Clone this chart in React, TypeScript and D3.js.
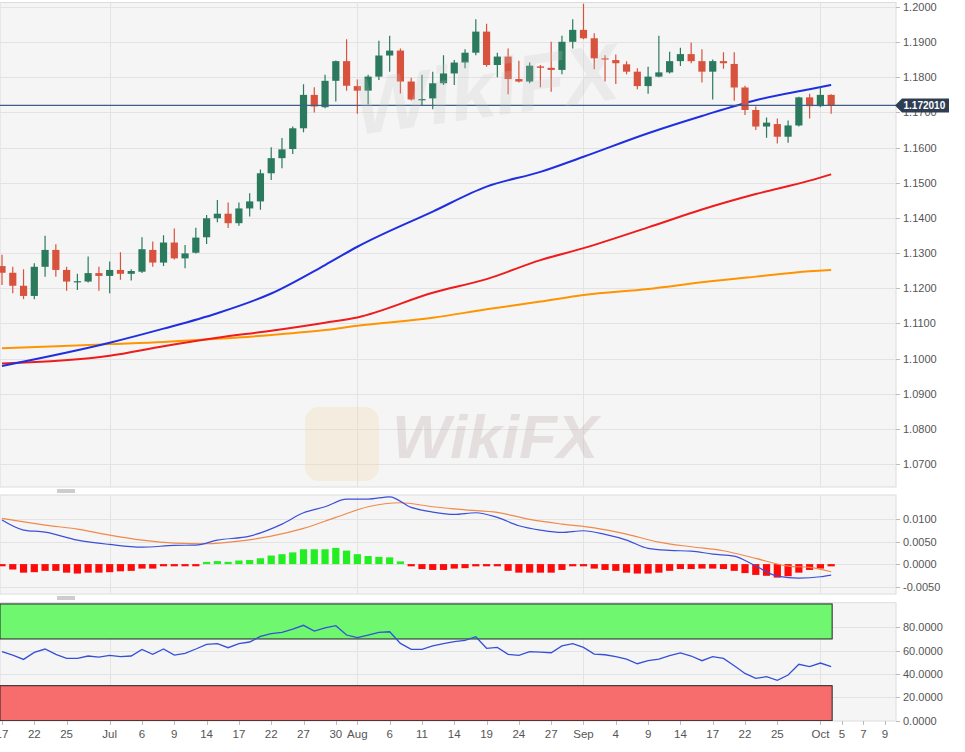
import React from "react";
import * as d3 from "d3";

// ---------- DATA ----------
const tradingDays: Date[] = d3.utcDay
  .range(new Date(Date.UTC(2020, 5, 17)), new Date(Date.UTC(2020, 9, 10)))
  .filter((d) => d.getUTCDay() !== 0 && d.getUTCDay() !== 6);
const fmtKey = d3.utcFormat("%Y-%m-%d");
const dayKeys = tradingDays.map(fmtKey);

const open = [
  1.1263, 1.1244, 1.1207, 1.1178, 1.1261, 1.1309, 1.1252, 1.1218, 1.1219, 1.1243,
  1.1235, 1.1252, 1.1241, 1.1247, 1.1309, 1.1273, 1.133, 1.1285, 1.1301, 1.1345,
  1.1399, 1.1412, 1.1385, 1.1427, 1.1447, 1.1527, 1.157, 1.1596, 1.1655, 1.175,
  1.1715, 1.179, 1.1846, 1.1775, 1.1762, 1.1802, 1.1862, 1.1876, 1.1788, 1.1736,
  1.174, 1.1783, 1.1811, 1.1842, 1.187, 1.193, 1.1835, 1.1859, 1.1795, 1.1788,
  1.1831, 1.1827, 1.1821, 1.1901, 1.1935, 1.1911, 1.1854, 1.1849, 1.1837, 1.1816,
  1.1775, 1.1802, 1.1814, 1.1846, 1.1866, 1.1846, 1.1816, 1.1846, 1.1838, 1.1771,
  1.1707, 1.166, 1.1667, 1.1631, 1.1663, 1.1743, 1.1718, 1.175,
];
const high = [
  1.1295, 1.1261, 1.1254, 1.1271, 1.1349, 1.1325, 1.1261, 1.1241, 1.129, 1.1261,
  1.1276, 1.1302, 1.1254, 1.1345, 1.1333, 1.1351, 1.137, 1.1323, 1.1372, 1.1408,
  1.1451, 1.1444, 1.1444, 1.147, 1.1538, 1.1601, 1.1627, 1.166, 1.178, 1.1772,
  1.1807, 1.1848, 1.1908, 1.1794, 1.1807, 1.1904, 1.1918, 1.1882, 1.1799, 1.1807,
  1.1816, 1.1863, 1.1849, 1.188, 1.1965, 1.1952, 1.187, 1.1882, 1.1847, 1.1842,
  1.1835, 1.1901, 1.1918, 1.1965, 1.2009, 1.1925, 1.1863, 1.1865, 1.1846, 1.1826,
  1.183, 1.1918, 1.1873, 1.1884, 1.1899, 1.188, 1.1851, 1.1871, 1.1871, 1.1776,
  1.1717, 1.1686, 1.1683, 1.1677, 1.1745, 1.1753, 1.1772, 1.1752,
];
const low = [
  1.1209, 1.1186, 1.1169, 1.1169, 1.1233, 1.1233, 1.1193, 1.1195, 1.1216, 1.1193,
  1.1186, 1.1224, 1.1222, 1.1243, 1.1261, 1.1263, 1.1282, 1.1257, 1.1299, 1.1326,
  1.1388, 1.1371, 1.1378, 1.1404, 1.1423, 1.1508, 1.1541, 1.1582, 1.1644, 1.17,
  1.1712, 1.1731, 1.1762, 1.1696, 1.1723, 1.1792, 1.1816, 1.1754, 1.1734, 1.1721,
  1.1709, 1.1778, 1.1778, 1.1826, 1.1863, 1.183, 1.18, 1.1752, 1.1785, 1.1783,
  1.1772, 1.1759, 1.1809, 1.1882, 1.1908, 1.1823, 1.1788, 1.1781, 1.1809, 1.1766,
  1.1753, 1.18, 1.1811, 1.1832, 1.184, 1.1785, 1.1737, 1.1824, 1.1733, 1.1693,
  1.165, 1.1628, 1.1612, 1.1614, 1.166, 1.1683, 1.1715, 1.1696,
];
const close = [
  1.1244, 1.1207, 1.1178, 1.1261, 1.1309, 1.1252, 1.1219, 1.122, 1.1243, 1.1235,
  1.1252, 1.1241, 1.1249, 1.1311, 1.1273, 1.133, 1.1285, 1.1299, 1.1344, 1.1399,
  1.1412, 1.1385, 1.1427, 1.1447, 1.1527, 1.157, 1.1595, 1.1655, 1.175, 1.1717,
  1.179, 1.1846, 1.1776, 1.1762, 1.1802, 1.1862, 1.1876, 1.1788, 1.1737, 1.1738,
  1.1783, 1.1811, 1.1842, 1.187, 1.193, 1.1835, 1.1859, 1.1795, 1.1788, 1.1833,
  1.1827, 1.1821, 1.1901, 1.1935, 1.1911, 1.1854, 1.1851, 1.184, 1.1816, 1.1775,
  1.1802, 1.1814, 1.1846, 1.1866, 1.1846, 1.1816, 1.1846, 1.184, 1.1771, 1.1707,
  1.166, 1.1671, 1.1631, 1.1663, 1.1743, 1.1718, 1.175, 1.172,
];
const lastPrice = 1.17201;

// moving averages, read at sampled dates
const maDates = [
  "2020-06-17", "2020-07-01", "2020-07-08", "2020-07-15", "2020-07-22", "2020-07-29",
  "2020-08-03", "2020-08-12", "2020-08-19", "2020-08-26", "2020-09-01", "2020-09-09",
  "2020-09-16", "2020-09-23", "2020-09-30", "2020-10-02",
];
const smaBlue = [1.0979, 1.1045, 1.1085, 1.1129, 1.1185, 1.1266, 1.1318, 1.1418, 1.1489, 1.1531, 1.1574, 1.1641, 1.169, 1.1735, 1.1766, 1.1778];
const smaRed = [1.0986, 1.1008, 1.1035, 1.1059, 1.1079, 1.1102, 1.1117, 1.1187, 1.1226, 1.128, 1.1314, 1.1373, 1.1424, 1.1468, 1.1506, 1.1524];
const smaOrange = [1.1029, 1.1041, 1.1047, 1.1056, 1.1067, 1.1081, 1.1093, 1.1116, 1.114, 1.1162, 1.1181, 1.1198, 1.1217, 1.1233, 1.1248, 1.1252];

// MACD
const macdDates = [
  "2020-06-17", "2020-06-19", "2020-06-23", "2020-06-26", "2020-07-01", "2020-07-06",
  "2020-07-09", "2020-07-13", "2020-07-15", "2020-07-20", "2020-07-23", "2020-07-27",
  "2020-07-29", "2020-07-31", "2020-08-04", "2020-08-06", "2020-08-10", "2020-08-12",
  "2020-08-14", "2020-08-18", "2020-08-20", "2020-08-24", "2020-08-26", "2020-08-28",
  "2020-09-01", "2020-09-03", "2020-09-07", "2020-09-09", "2020-09-11", "2020-09-15",
  "2020-09-17", "2020-09-21", "2020-09-23", "2020-09-25", "2020-09-29", "2020-10-01",
  "2020-10-02",
];
const macdLine = [
  0.00978, 0.00756, 0.00711, 0.00533, 0.00437, 0.00378, 0.00415, 0.00422, 0.00533, 0.00622,
  0.00889, 0.0114, 0.01274, 0.01444, 0.01444, 0.01496, 0.0126, 0.01156, 0.01104, 0.01141,
  0.01037, 0.00852, 0.00756, 0.00704, 0.00741, 0.00659, 0.00533, 0.00348, 0.00304, 0.00289,
  0.00222, 0.00178, -0.00044, -0.00267, -0.00311, -0.00281, -0.00244,
];
const signalDates = [
  "2020-06-17", "2020-06-23", "2020-06-26", "2020-07-01", "2020-07-06", "2020-07-09",
  "2020-07-14", "2020-07-17", "2020-07-22", "2020-07-27", "2020-07-30", "2020-08-04",
  "2020-08-07", "2020-08-12", "2020-08-17", "2020-08-20", "2020-08-25", "2020-08-28",
  "2020-09-02", "2020-09-07", "2020-09-10", "2020-09-15", "2020-09-18", "2020-09-23",
  "2020-09-28", "2020-09-30", "2020-10-02",
];
const signalLine = [
  0.01015, 0.00867, 0.00778, 0.00644, 0.00533, 0.00467, 0.00452, 0.00511, 0.00622, 0.00793,
  0.01037, 0.01274, 0.01363, 0.01274, 0.01207, 0.01148, 0.00993, 0.00889, 0.00807, 0.00667,
  0.00489, 0.00385, 0.00296, 0.00126, -0.00044, -0.00074, -0.0017,
];
const macdHist = [
  -0.00015, -0.0012, -0.0019, -0.0018, -0.0015, -0.0015, -0.0019, -0.0021, -0.0019, -0.0019,
  -0.0018, -0.0016, -0.0015, -0.001, -0.001, -0.00045, -0.00045, -0.00045, -0.0002, 0.00045,
  0.00067, 0.0005, 0.0008, 0.0009, 0.0013, 0.0019, 0.0022, 0.0026, 0.0033, 0.0033,
  0.0033, 0.0036, 0.003, 0.0022, 0.0018, 0.0016, 0.0015, 0.0006, -0.0003, -0.0011,
  -0.0013, -0.0013, -0.001, -0.0009, -0.0005, -0.0004, -0.0004, -0.0015, -0.0019, -0.0019,
  -0.0019, -0.0019, -0.0013, -0.00045, -0.00045, -0.001, -0.0013, -0.0015, -0.0019, -0.0021,
  -0.0021, -0.0019, -0.0015, -0.0011, -0.0011, -0.001, -0.001, -0.0011, -0.0015, -0.002,
  -0.0024, -0.0026, -0.003, -0.0027, -0.0019, -0.0013, -0.001, -0.0005,
];

// RSI
const rsi = [
  59.1, 56.2, 52.5, 58.5, 61.4, 56.8, 53.4, 53.4, 55.4, 54.5,
  56.0, 54.8, 55.4, 61.1, 56.8, 61.4, 56.2, 57.7, 61.4, 65.4,
  66.0, 62.5, 66.0, 67.4, 72.2, 74.5, 75.7, 78.5, 81.7, 76.8,
  79.6, 81.4, 73.4, 71.1, 73.4, 75.7, 76.2, 66.2, 61.1, 61.1,
  64.0, 66.0, 67.7, 68.8, 71.9, 62.0, 62.8, 56.8, 56.0, 59.1,
  58.8, 58.2, 64.0, 66.0, 62.8, 57.1, 56.5, 54.8, 52.8, 48.8,
  51.4, 52.8, 55.7, 58.0, 55.4, 51.4, 54.8, 53.4, 47.1, 40.5,
  36.3, 37.7, 34.5, 39.1, 48.3, 46.3, 49.4, 46.3,
];

// axes
const priceTicks = [1.07, 1.08, 1.09, 1.1, 1.11, 1.12, 1.13, 1.14, 1.15, 1.16, 1.17, 1.18, 1.19, 1.2];
const macdTicks = [-0.005, 0, 0.005, 0.01];
const rsiTicks = [0, 20, 40, 60, 80];
const tickDates = [
  "2020-06-17", "2020-06-22", "2020-06-25", "2020-07-01", "2020-07-06", "2020-07-09",
  "2020-07-14", "2020-07-17", "2020-07-22", "2020-07-27", "2020-07-30", "2020-08-03",
  "2020-08-06", "2020-08-11", "2020-08-14", "2020-08-19", "2020-08-24", "2020-08-27",
  "2020-09-01", "2020-09-04", "2020-09-09", "2020-09-14", "2020-09-17", "2020-09-22",
  "2020-09-25", "2020-10-01", "2020-10-05", "2020-10-07", "2020-10-09",
];
const tickLabels = [
  "17", "22", "25", "Jul", "6", "9", "14", "17", "22", "27", "30", "Aug", "6", "11", "14",
  "19", "24", "27", "Sep", "4", "9", "14", "17", "22", "25", "Oct", "5", "7", "9",
];
const monthStarts = ["2020-07-01", "2020-08-03", "2020-09-01", "2020-10-01"];

// ---------- CHART ----------
const FONT = "'Liberation Sans', Arial, sans-serif";
const GREEN = "#2b7a5e";
const RED = "#d8533d";

export default function App() {
  const idx = (k: string) => dayKeys.indexOf(k);
  const x = d3.scaleLinear().domain([0, dayKeys.length - 1]).range([2, 885]);

  const P = { left: 0, right: 896, top: 2.5, bottom: 487 };
  const M = { top: 495, bottom: 594 };
  const R = { top: 602.7, bottom: 721 };

  const yP = d3.scaleLinear().domain([1.07, 1.2]).range([464, 7]);
  const yM = d3.scaleLinear().domain([-0.005, 0.01]).range([586.6, 519.1]);
  const yR = d3.scaleLinear().domain([0, 80]).range([720.7, 627.3]);

  const candles = close.map((c, i) => ({ i, o: open[i], h: high[i], l: low[i], c }));

  const maLine = (vals: number[], dates: string[], y: d3.ScaleLinear<number, number>) =>
    d3
      .line<number>()
      .x((_, j) => x(idx(dates[j])))
      .y((v) => y(v))
      .curve(d3.curveMonotoneX)(vals) || "";

  const rsiPath =
    d3
      .line<number>()
      .x((_, i) => x(i))
      .y((v) => yR(v))(rsi) || "";

  const lastX = x(close.length - 1) + 1;
  const crisp = (v: number) => Math.round(v) + 0.5;
  const yLast = yP(lastPrice);

  return (
    <svg
      width={965}
      height={752}
      viewBox="0 0 965 752"
      style={{ position: "absolute", left: 0, top: 0, background: "#fff" }}
      fontFamily={FONT}
    >
      <defs>
        <clipPath id="clipP">
          <rect x={P.left} y={P.top} width={P.right - P.left} height={P.bottom - P.top} />
        </clipPath>
        <clipPath id="clipM">
          <rect x={0} y={M.top} width={P.right} height={M.bottom - M.top} />
        </clipPath>
        <clipPath id="clipR">
          <rect x={0} y={R.top} width={P.right} height={R.bottom - R.top} />
        </clipPath>
      </defs>

      {/* ---------- main panel ---------- */}
      <rect x={P.left} y={P.top} width={P.right - P.left} height={P.bottom - P.top} fill="#f5f5f5" stroke="#dcdcdc" />
      <g clipPath="url(#clipP)">
        {priceTicks.map((t) => (
          <line key={t} x1={0} x2={P.right} y1={crisp(yP(t))} y2={crisp(yP(t))} stroke="#e3e3e3" />
        ))}
        {monthStarts.map((m) => (
          <line key={m} x1={crisp(x(idx(m)))} x2={crisp(x(idx(m)))} y1={P.top} y2={P.bottom} stroke="#e3e3e3" />
        ))}
        <path d={maLine(smaOrange, maDates, yP)} fill="none" stroke="#ff9400" strokeWidth={2} />
        <path d={maLine(smaRed, maDates, yP)} fill="none" stroke="#ee1c1c" strokeWidth={2} />
        <path d={maLine(smaBlue, maDates, yP)} fill="none" stroke="#1f2fe0" strokeWidth={2} />
        {candles.map((d) => {
          const cx = x(d.i);
          const col = d.c >= d.o ? GREEN : RED;
          const top = yP(Math.max(d.o, d.c));
          const hgt = Math.max(1.2, Math.abs(yP(d.o) - yP(d.c)));
          return (
            <g key={d.i}>
              <line x1={cx} x2={cx} y1={yP(d.h)} y2={yP(d.l)} stroke={col} strokeWidth={1.2} />
              <rect x={cx - 3.6} y={top} width={7.2} height={hgt} fill={col} />
            </g>
          );
        })}
        <line x1={0} x2={P.right} y1={yLast} y2={yLast} stroke="#3f5f86" strokeWidth={1.2} />
      </g>
      {priceTicks.map((t) => (
        <g key={t}>
          <line x1={P.right} x2={P.right + 4} y1={crisp(yP(t))} y2={crisp(yP(t))} stroke="#bbb" />
          <text x={903} y={yP(t) + 4} fontSize={11} fill="#555">
            {d3.format(".4f")(t)}
          </text>
        </g>
      ))}
      {/* last price tag */}
      <g>
        <path
          d={`M${P.right - 1},${yLast} L${P.right + 6},${yLast - 7} L949,${yLast - 7} L949,${yLast + 7} L${P.right + 6},${yLast + 7} Z`}
          fill="#2e3d52"
        />
        <text x={903.5} y={yLast + 3.6} fontSize={10} fontWeight="bold" fill="#fff">
          {d3.format(".6f")(lastPrice)}
        </text>
      </g>

      {/* ---------- MACD panel ---------- */}
      <rect x={0} y={M.top} width={P.right} height={M.bottom - M.top} fill="#f5f5f5" stroke="#dcdcdc" />
      <g clipPath="url(#clipM)">
        {macdTicks.map((t) => (
          <line key={t} x1={0} x2={P.right} y1={crisp(yM(t))} y2={crisp(yM(t))} stroke="#e3e3e3" />
        ))}
        {monthStarts.map((m) => (
          <line key={m} x1={crisp(x(idx(m)))} x2={crisp(x(idx(m)))} y1={M.top} y2={M.bottom} stroke="#e3e3e3" />
        ))}
        {macdHist.map((v, i) => {
          const y0 = yM(0);
          const h = Math.max(2.2, Math.abs(yM(v) - y0));
          return (
            <rect
              key={i}
              x={x(i) - 3.6}
              y={v >= 0 ? y0 - h : y0}
              width={7.2}
              height={h}
              fill={v >= 0 ? "#22ee22" : "#ff0a0a"}
            />
          );
        })}
        <path d={maLine(signalLine, signalDates, yM)} fill="none" stroke="#f08a4b" strokeWidth={1.2} />
        <path d={maLine(macdLine, macdDates, yM)} fill="none" stroke="#3c4fd8" strokeWidth={1.2} />
      </g>
      {macdTicks.map((t) => (
        <g key={t}>
          <line x1={P.right} x2={P.right + 4} y1={crisp(yM(t))} y2={crisp(yM(t))} stroke="#bbb" />
          <text x={903} y={yM(t) + 4} fontSize={11} fill="#555">
            {d3.format(".4f")(t).replace("−", "-")}
          </text>
        </g>
      ))}

      {/* ---------- RSI panel ---------- */}
      <rect x={0} y={R.top} width={P.right} height={R.bottom - R.top} fill="#f5f5f5" stroke="#dcdcdc" />
      <g clipPath="url(#clipR)">
        {rsiTicks.map((t) => (
          <line key={t} x1={0} x2={P.right} y1={crisp(yR(t))} y2={crisp(yR(t))} stroke="#e3e3e3" />
        ))}
        {monthStarts.map((m) => (
          <line key={m} x1={crisp(x(idx(m)))} x2={crisp(x(idx(m)))} y1={R.top} y2={R.bottom} stroke="#e3e3e3" />
        ))}
        <rect x={0} y={yR(100)} width={lastX} height={yR(70) - yR(100)} fill="#6ff76f" stroke="#222" strokeWidth={1} />
        <rect x={0} y={yR(30)} width={lastX} height={yR(0) - yR(30)} fill="#f76d6d" stroke="#222" strokeWidth={1} />
        <path d={rsiPath} fill="none" stroke="#3550d6" strokeWidth={1.3} />
      </g>
      {rsiTicks.map((t) => (
        <g key={t}>
          <line x1={P.right} x2={P.right + 4} y1={crisp(yR(t))} y2={crisp(yR(t))} stroke="#bbb" />
          <text x={903} y={yR(t) + 4} fontSize={11} fill="#555">
            {d3.format(".4f")(t)}
          </text>
        </g>
      ))}

      {/* ---------- separators (drag handles) ---------- */}
      {[491, 598].map((yy) => (
        <g key={yy} stroke="#9a9a9a">
          <line x1={57} x2={75} y1={yy - 1} y2={yy - 1} />
          <line x1={57} x2={75} y1={yy + 1} y2={yy + 1} />
        </g>
      ))}

      {/* ---------- x axis ---------- */}
      {tickDates.map((d, j) => {
        const tx = x(idx(d));
        return (
          <g key={d}>
            <line x1={crisp(tx)} x2={crisp(tx)} y1={R.bottom} y2={R.bottom + 4} stroke="#bbb" />
            <text x={tx} y={738} fontSize={11.5} fill="#555" textAnchor="middle">
              {tickLabels[j]}
            </text>
          </g>
        );
      })}

      {/* ---------- watermarks ---------- */}
      <g pointerEvents="none" fontWeight="bold" fontStyle="italic">
        <rect x={305} y={407} width={74} height={74} rx={14} fill="#f3d9a0" opacity={0.25} />
        <text x={392} y={458} fontSize={62} fill="#b9aaa4" opacity={0.28}>
          WikiFX
        </text>
        <text x={352} y={112} fontSize={80} fill="#c8c8c8" opacity={0.22} transform="rotate(-8 520 80)">
          WikiFX
        </text>
      </g>
    </svg>
  );
}
